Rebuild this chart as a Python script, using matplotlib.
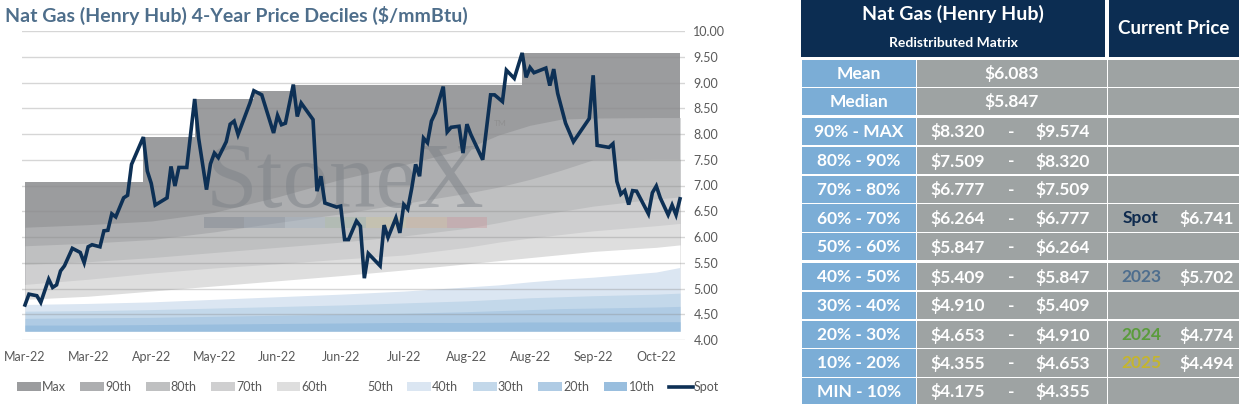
import numpy as np
import matplotlib
matplotlib.use('Agg')
import matplotlib.pyplot as plt
from matplotlib.patches import Patch, Rectangle
from matplotlib.lines import Line2D
from matplotlib.ticker import FormatStrFormatter

plt.rcParams['font.family'] = ['Lato', 'DejaVu Sans']

# ---- data ----
tick_labels = ['Mar-22', 'Mar-22', 'Apr-22', 'May-22', 'Jun-22', 'Jun-22',
               'Jul-22', 'Aug-22', 'Aug-22', 'Sep-22', 'Oct-22']
tick_every = 16

spot_day = [0, 1, 3, 4, 6, 7, 8, 9, 10, 12, 14, 15, 16, 17, 19, 20, 21, 22, 23, 25,
            26, 27, 30, 31, 32, 33, 36, 37, 38, 39, 41, 43, 44, 46, 47, 48, 49, 51, 52, 53,
            54, 57, 58, 60, 63, 64, 65, 66, 68, 69, 70, 73, 74, 75, 76, 79, 80, 81, 82, 84,
            85, 86, 87, 90, 91, 92, 94, 95, 96, 97, 98, 99, 100, 101, 102, 103, 104, 106, 107, 108,
            110, 111, 112, 113, 116, 118, 119, 121, 122, 124, 126, 127, 128, 129, 132, 133, 134, 135, 137, 139,
            143, 144, 145, 148, 149, 150, 151, 152, 153, 154, 155, 158, 159, 160, 161, 163, 164, 165, 166]
spot_px = [4.68, 4.89, 4.86, 4.73, 5.18, 5.02, 5.07, 5.34, 5.44, 5.78, 5.70, 5.50, 5.81, 5.85, 5.81, 6.12, 6.13, 6.45, 6.39, 6.76,
           6.81, 7.41, 7.94, 7.28, 7.04, 6.62, 6.76, 7.37, 6.99, 7.35, 7.35, 8.68, 7.92, 6.92, 7.42, 7.63, 7.54, 7.85, 8.19, 8.25,
           7.99, 8.60, 8.84, 8.76, 8.02, 8.36, 8.18, 8.21, 8.96, 8.34, 8.60, 8.28, 6.89, 7.18, 6.66, 6.58, 6.60, 5.95, 5.95, 6.31,
           6.21, 5.20, 5.68, 5.44, 6.23, 5.99, 6.37, 6.08, 6.63, 6.54, 6.94, 7.41, 7.18, 7.92, 7.83, 8.25, 8.41, 8.92, 8.04, 8.13,
           8.15, 7.63, 8.19, 7.99, 7.50, 8.76, 8.76, 8.63, 9.24, 9.08, 9.574, 9.10, 9.29, 9.19, 9.28, 8.94, 9.26, 8.79, 8.21, 7.85,
           8.30, 9.14, 7.78, 7.74, 7.81, 7.08, 6.83, 6.90, 6.63, 6.90, 6.89, 6.45, 6.86, 6.99, 6.76, 6.43, 6.62, 6.43, 6.741]

max_day = [0, 30, 43, 58, 68, 126, 166]
max_val = [7.07, 7.94, 8.68, 8.84, 8.96, 9.574, 9.574]

dec_day = [0, 16, 32, 48, 64, 80, 96, 112, 120, 128, 136, 144, 160, 166]
p90 = [6.19, 6.24, 6.31, 6.48, 6.78, 7.12, 7.40, 7.72, 7.98, 8.17, 8.29, 8.31, 8.32, 8.32]
p80 = [5.83, 5.88, 5.95, 6.10, 6.28, 6.45, 6.65, 6.85, 6.97, 7.12, 7.30, 7.50, 7.51, 7.509]
p70 = [5.47, 5.52, 5.60, 5.70, 5.80, 5.90, 6.02, 6.17, 6.28, 6.40, 6.50, 6.60, 6.74, 6.777]
p60 = [5.08, 5.18, 5.30, 5.40, 5.48, 5.57, 5.65, 5.80, 5.90, 5.98, 6.05, 6.12, 6.22, 6.264]
p50 = [4.79, 4.85, 4.95, 5.05, 5.15, 5.25, 5.36, 5.48, 5.54, 5.60, 5.66, 5.72, 5.80, 5.847]
p40 = [4.69, 4.71, 4.74, 4.79, 4.84, 4.89, 4.95, 5.03, 5.07, 5.13, 5.18, 5.22, 5.32, 5.409]
p30 = [4.56, 4.57, 4.59, 4.62, 4.65, 4.68, 4.72, 4.76, 4.79, 4.82, 4.84, 4.86, 4.89, 4.910]
p20 = [4.42, 4.43, 4.44, 4.46, 4.48, 4.50, 4.52, 4.55, 4.57, 4.59, 4.61, 4.62, 4.64, 4.653]
p10 = [4.29, 4.29, 4.30, 4.31, 4.32, 4.33, 4.34, 4.34, 4.345, 4.35, 4.35, 4.35, 4.355, 4.355]
pmin = [4.175] * len(dec_day)

# table
mean_val = 6.083
median_val = 5.847
range_names = ['90% - MAX', '80% - 90%', '70% - 80%', '60% - 70%', '50% - 60%',
               '40% - 50%', '30% - 40%', '20% - 30%', '10% - 20%', 'MIN - 10%']
range_lo = [8.320, 7.509, 6.777, 6.264, 5.847, 5.409, 4.910, 4.653, 4.355, 4.175]
range_hi = [9.574, 8.320, 7.509, 6.777, 6.264, 5.847, 5.409, 4.910, 4.653, 4.355]
cur_names = {3: 'Spot', 5: '2023', 7: '2024', 8: '2025'}
cur_vals = {3: 6.741, 5: 5.702, 7: 4.774, 8: 4.494}
cur_colors = {3: '#0e2a4e', 5: '#4e6e8e', 7: '#5a9c3c', 8: '#c4b52e'}

band_names = ['Max', '90th', '80th', '70th', '60th', '50th', '40th', '30th', '20th', '10th']
band_colors = ['#9b9c9e', '#adaeb0', '#bfc0c1', '#cfcfd0', '#dedede', '#ffffff',
               '#dbe6f2', '#c3d8ea', '#afcbe4', '#99bede']

W, H = 1239, 404
fig = plt.figure(figsize=(W / 100, H / 100), dpi=100)

ax = fig.add_axes([22 / W, 1 - 340 / H, 663 / W, 309 / H])
ax.set_xlim(-0.76, 167.27)
ax.set_ylim(4, 10)

# bands painted from the top decile down, each from the min line
ax.fill_between(max_day, pmin[0], max_val, step='post', color=band_colors[0], lw=0, zorder=1)
tops = [p90, p80, p70, p60, p50, p40, p30, p20, p10]
for top, col in zip(tops, band_colors[1:]):
    ax.fill_between(dec_day, pmin, top, color=col, lw=0, zorder=1)

ax.set_yticks(np.arange(4, 10.01, 0.5))
ax.yaxis.set_major_formatter(FormatStrFormatter('%.2f'))
ax.yaxis.tick_right()
ax.grid(axis='y', color='#8a8a8a', alpha=0.35, lw=1, zorder=2)
ax.set_axisbelow(False)
ax.set_xticks(np.arange(len(tick_labels)) * tick_every)
ax.set_xticklabels(tick_labels)
ax.tick_params(length=0, labelsize=9, labelcolor='#595959')
ax.tick_params(axis='y', pad=6)
ax.tick_params(axis='x', pad=8)
for s in ax.spines.values():
    s.set_visible(False)

# StoneX watermark
ax.text(0.487, 0.43, 'StoneX', transform=ax.transAxes, ha='center', va='baseline',
        family='Liberation Serif', fontsize=67, color='#7d8288', alpha=0.5, zorder=3)
ax.text(0.712, 0.70, 'TM', transform=ax.transAxes, ha='left', va='center',
        fontsize=6, color='#888888', alpha=0.6, zorder=3)
bar_cols = ['#7f8893', '#8d99a8', '#a5b3c3', '#a4b5a6', '#cbc49c', '#d0b49a', '#c99a9e']
bx0, bx1 = 0.2745, 0.7014
seg = (bx1 - bx0) / len(bar_cols)
for i, c in enumerate(bar_cols):
    ax.add_patch(Rectangle((bx0 + i * seg, 0.363), seg, 0.035, transform=ax.transAxes,
                           color=c, alpha=0.45, lw=0, zorder=3))

ax.plot(spot_day, spot_px, color='#0d3055', lw=2.6, solid_joinstyle='miter', zorder=5)

fig.text(5 / W, 1 - 15 / H, 'Nat Gas (Henry Hub) 4-Year Price Deciles ($/mmBtu)',
         fontsize=14, fontweight='bold', color='#4e6e8b', va='center', ha='left')

handles = [Patch(facecolor=c, edgecolor='none') for c in band_colors]
handles.append(Line2D([0], [0], color='#0d3055', lw=2.6))
fig.legend(handles, band_names + ['Spot'], loc='center left', bbox_to_anchor=(17 / W, 1 - 387 / H),
           ncol=11, frameon=False, fontsize=9, handlelength=1.9, handleheight=0.7,
           handletextpad=0.1, columnspacing=1.15, borderpad=0, borderaxespad=0,
           labelcolor='#595959')

# ---- table on the right ----
tab = fig.add_axes([800 / W, 0, (W - 800) / W, 1])
tab.set_xlim(800, W)
tab.set_ylim(H, 0)
tab.axis('off')

navy = '#0c2d52'
lab_bg = '#7badd6'
val_bg = '#9ea3a3'
wt = 'bold'

tab.add_patch(Rectangle((801, 0), 304, 57, color=navy, lw=0))
tab.add_patch(Rectangle((1109, 0), 130, 57, color=navy, lw=0))
tab.text(953, 14, 'Nat Gas (Henry Hub)', ha='center', va='center', color='white',
         fontsize=14, fontweight=wt)
tab.text(953, 43, 'Redistributed Matrix', ha='center', va='center', color='white',
         fontsize=10, fontweight=wt)
tab.text(1174, 28, 'Current Price', ha='center', va='center', color='white',
         fontsize=13.5, fontweight=wt)

row_tops = [60, 88, 118, 147, 176, 204, 233, 263, 292, 321, 349, 378]
row_h = [27, 27, 27, 27, 27, 28, 27, 27, 27, 27, 28, 27]
row_names = ['Mean', 'Median'] + range_names
fs = 12.5

for r, (y0, h) in enumerate(zip(row_tops, row_h)):
    tab.add_patch(Rectangle((802, y0), 114, h, color=lab_bg, lw=0))
    tab.add_patch(Rectangle((917, y0), 190, h, color=val_bg, lw=0))
    tab.add_patch(Rectangle((1108, y0), 131, h, color=val_bg, lw=0))
    yc = y0 + h / 2 + 0.5
    tab.text(859, yc, row_names[r], ha='center', va='center', color='white',
             fontsize=fs, fontweight=wt)
    if r == 0:
        tab.text(1012, yc, f'${mean_val:.3f}', ha='center', va='center', color='white',
                 fontsize=fs, fontweight=wt)
    elif r == 1:
        tab.text(1012, yc, f'${median_val:.3f}', ha='center', va='center', color='white',
                 fontsize=fs, fontweight=wt)
    else:
        i = r - 2
        tab.text(958, yc, f'${range_lo[i]:.3f}', ha='center', va='center', color='white',
                 fontsize=fs, fontweight=wt)
        tab.text(1011, yc, '-', ha='center', va='center', color='white',
                 fontsize=fs, fontweight=wt)
        tab.text(1063, yc, f'${range_hi[i]:.3f}', ha='center', va='center', color='white',
                 fontsize=fs, fontweight=wt)
        if i in cur_names:
            tab.text(1141, yc, cur_names[i], ha='center', va='center', color=cur_colors[i],
                     fontsize=fs, fontweight=wt)
            tab.text(1207, yc, f'${cur_vals[i]:.3f}', ha='center', va='center', color='white',
                     fontsize=fs, fontweight=wt)

fig.savefig('out.png', dpi=100)
